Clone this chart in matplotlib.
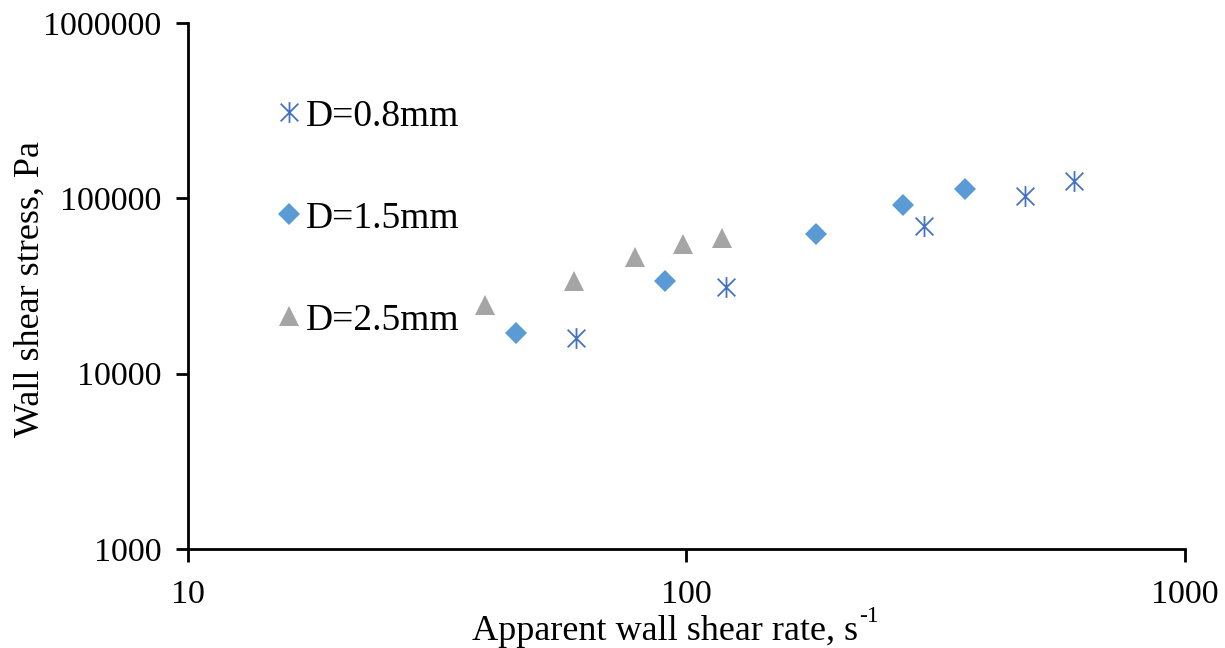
import matplotlib
matplotlib.use("Agg")
import matplotlib.pyplot as plt
from matplotlib.path import Path

plt.rcParams['font.family'] = ['Liberation Serif', 'DejaVu Serif']

# shear rate (1/s) and wall shear stress (Pa) per die diameter
rate_08 = [60, 120, 300, 478, 600]
stress_08 = [16000, 31200, 69800, 103500, 126000]

rate_15 = [45.5, 90.5, 182, 272, 362]
stress_15 = [17000, 33800, 62700, 91700, 113200]

rate_25 = [39.5, 59.5, 79, 98.5, 118]
stress_25 = [24600, 33600, 46000, 55000, 59500]

# asterisk: vertical bar plus an X
star = Path([(0, -1), (0, 1), (-0.85, -0.85), (0.85, 0.85), (-0.85, 0.85), (0.85, -0.85)],
            [Path.MOVETO, Path.LINETO, Path.MOVETO, Path.LINETO, Path.MOVETO, Path.LINETO])

fig = plt.figure(figsize=(12.25, 6.48), dpi=100)
ax = fig.add_axes([0.1535, 0.1528, 0.8135, 0.8117])

ax.plot(rate_08, stress_08, ls='none', marker=star, ms=15, mew=1.3,
        color='#4472C4', label='D=0.8mm')
ax.plot(rate_15, stress_15, ls='none', marker='D', ms=11, mew=0,
        color='#5B9BD5', label='D=1.5mm')
ax.plot(rate_25, stress_25, ls='none', marker='^', ms=15, mew=0,
        color='#A5A5A5', label='D=2.5mm')

ax.set_xscale('log')
ax.set_yscale('log')
ax.set_xlim(10, 1000)
ax.set_ylim(1000, 1000000)
ax.set_xticks([10, 100, 1000])
ax.set_xticklabels(['10', '100', '1000'])
ax.set_yticks([1000, 10000, 100000, 1000000])
ax.set_yticklabels(['1000', '10000', '100000', '1000000'])
ax.minorticks_off()

for s in ['top', 'right']:
    ax.spines[s].set_visible(False)
for s in ['left', 'bottom']:
    ax.spines[s].set_linewidth(2)
ax.tick_params(direction='out', length=9, width=2, labelsize=24.5)
ax.tick_params(axis='x', pad=13)
ax.tick_params(axis='y', pad=10)

# axis titles; the exponent on s is set as a separate raised text
fig.text(0.0245, 0.554, 'Wall shear stress, Pa', fontsize=26,
         rotation=90, ha='center', va='center')
xl = fig.text(0.3855, 0.013, 'Apparent wall shear rate, s', fontsize=26,
              ha='left', va='baseline')
fig.canvas.draw()
bb = xl.get_window_extent()
fig.text(bb.x1 / fig.bbox.width + 0.001, 0.040, '-1', fontsize=17,
         ha='left', va='baseline')

ax.legend(loc='upper left', bbox_to_anchor=(0.075, 0.884), frameon=False,
          fontsize=27, labelspacing=1.8, handlelength=0.6, handletextpad=0.15,
          borderaxespad=0)

fig.savefig('out.png', dpi=100)
